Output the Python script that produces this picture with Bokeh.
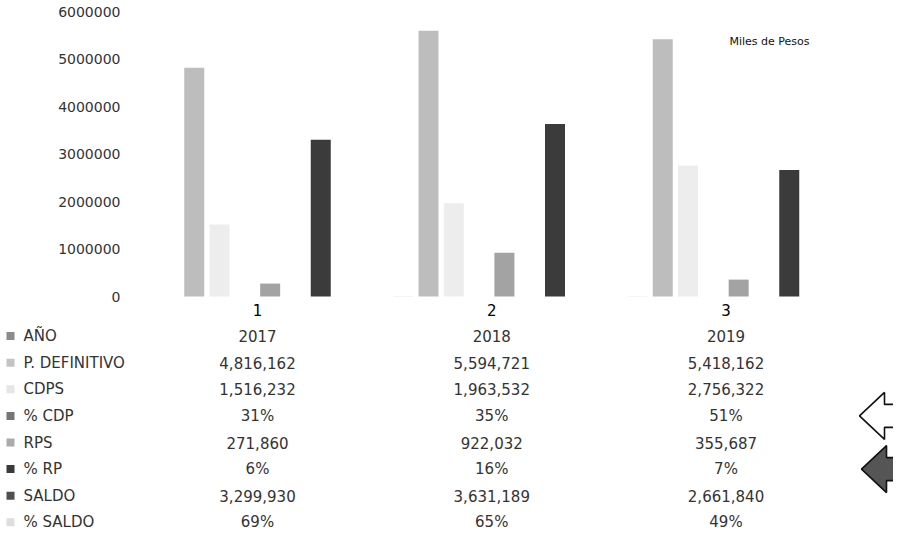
from bokeh.plotting import figure
from bokeh.models import ColumnDataSource, Range1d, Label
from bokeh.transform import dodge
from bokeh.core.properties import value
from bokeh.embed import file_html
from bokeh.resources import INLINE

# ---------------- data ----------------
categories = ["1", "2", "3"]
cat_pos = [1, 2, 3]
anio = [2017, 2018, 2019]
p_definitivo = [4816162, 5594721, 5418162]
cdps = [1516232, 1963532, 2756322]
pct_cdp = [0.31, 0.35, 0.51]
rps = [271860, 922032, 355687]
pct_rp = [0.06, 0.16, 0.07]
saldo = [3299930, 3631189, 2661840]
pct_saldo = [0.69, 0.65, 0.49]
series_labels = ["AÑO", "P.  DEFINITIVO", "CDPS", "% CDP", "RPS", "% RP", "SALDO", "% SALDO"]
series_kinds = ["year", "money", "money", "pct", "money", "pct", "money", "pct"]
y_ticks = [0, 1000000, 2000000, 3000000, 4000000, 5000000, 6000000]
unit_note = "Miles de Pesos"

# ---------------- style / layout ----------------
series_values = [anio, p_definitivo, cdps, pct_cdp, rps, pct_rp, saldo, pct_saldo]
series_colors = ["#8c8c8c", "#bdbdbd", "#ededed", "#7a7a7a", "#a3a3a3", "#3f3f3f", "#3b3b3b", "#e0e0e0"]
swatch_colors = ["#8c8c8c", "#c4c4c4", "#e6e6e6", "#767676", "#ababab", "#3a3a3a", "#505050", "#dedede"]

W, H = 893, 534
PPU = 234.25            # px per category unit
G1 = 265 - 8            # figure px of category 1 centre
x_start = 1 - G1 / PPU
x_end = x_start + W / PPU
BASE = 304 - 8          # figure px of value 0
PX_PER_M = 47.5         # px per 1,000,000
y_top = BASE / PX_PER_M * 1e6
y_bot = -(H - BASE) / PX_PER_M * 1e6
ROW0 = 317 - 8          # figure px of header row
ROW_H = 26.6
t_top = -ROW0 / ROW_H
t_bot = (H - ROW0) / ROW_H

FONT = value("DejaVu Sans")
TXT = "#333333"

p = figure(width=W, height=H, x_range=Range1d(x_start, x_end), y_range=Range1d(y_bot, y_top),
           x_axis_type=None, y_axis_type=None, toolbar_location=None, output_backend="svg",
           min_border=0, outline_line_color=None, title=None, background_fill_color="white")
p.extra_y_ranges = {"table": Range1d(start=t_bot, end=t_top)}

# ---------------- bars ----------------
src = ColumnDataSource(dict(x=cat_pos, **{f"s{k}": v for k, v in enumerate(series_values)}))
slot = 25.3 / PPU
bar_w = 20.0 / PPU
for k in range(len(series_values)):
    p.vbar(x=dodge("x", (k - 3.5) * slot, range=p.x_range), top=f"s{k}", bottom=0, width=bar_w,
           source=src, fill_color=series_colors[k], line_color=None)

# ---------------- y tick labels ----------------
p.text(x=[x_start] * len(y_ticks), y=y_ticks, text=[str(t) for t in y_ticks], x_offset=120,
       text_align="right", text_baseline="middle", text_font=FONT, text_font_size="14px",
       text_color=TXT)

# ---------------- unit note ----------------
p.add_layout(Label(x=729, y=H - 41, x_units="screen", y_units="screen", text=unit_note,
                   text_font="DejaVu Sans", text_font_size="11px", text_color="#111111",
                   text_baseline="middle", text_align="left"))

# ---------------- data table ----------------
def fmt(kind, v):
    if kind == "year":
        return str(v)
    if kind == "money":
        return f"{v:,}"
    return f"{round(v * 100)}%"

p.text(x=cat_pos, y=[0] * len(cat_pos), text=categories, y_range_name="table",
       text_align="center", text_baseline="middle", text_font=FONT, text_font_size="15px",
       text_color="#000000")

tx, ty, tt = [], [], []
for r, (kind, vals) in enumerate(zip(series_kinds, series_values), start=1):
    for c, v in zip(cat_pos, vals):
        tx.append(c)
        ty.append(r)
        tt.append(fmt(kind, v))
p.text(x=tx, y=ty, text=tt, y_range_name="table", text_align="center", text_baseline="middle",
       text_font=FONT, text_font_size="15px", text_color=TXT)

rows = list(range(1, len(series_labels) + 1))
p.text(x=[x_start] * len(rows), y=rows, text=series_labels, x_offset=23, y_range_name="table",
       text_align="left", text_baseline="middle", text_font=FONT, text_font_size="15px",
       text_color=TXT)
p.rect(x=[x_start + 10 / PPU] * len(rows), y=rows, width=8, height=8, width_units="screen",
       height_units="screen", y_range_name="table", fill_color=swatch_colors, line_color=None)

# ---------------- arrows (pointing at % CDP and % RP rows) ----------------
def arrow(tip_px, row):
    shape = [(0, 0), (25, 23.5), (25, 11.5), (40, 11.5), (40, -11.5), (25, -11.5), (25, -23.5)]
    xs = [x_start + (tip_px + dx) / PPU for dx, dy in shape]
    ys = [row - dy / ROW_H for dx, dy in shape]
    return xs, ys

ax, ay = arrow(867 - 8, series_labels.index("% CDP") + 1)
p.patch(ax, ay, y_range_name="table", fill_color="white", line_color="#111111", line_width=1.6)
bx, by = arrow(869 - 8, series_labels.index("% RP") + 1)
p.patch(bx, by, y_range_name="table", fill_color="#555555", line_color="#111111", line_width=1.6)

open("out.html", "w").write(file_html(p, INLINE))
